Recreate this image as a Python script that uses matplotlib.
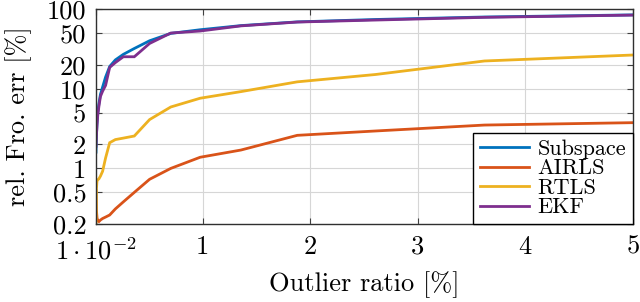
import matplotlib
matplotlib.use("Agg")
import matplotlib.pyplot as plt
import matplotlib.transforms as mtransforms

plt.rcParams['font.family'] = 'serif'
plt.rcParams['font.serif'] = ['cmr10']
plt.rcParams['mathtext.fontset'] = 'cm'
plt.rcParams['axes.formatter.use_mathtext'] = True

# Outlier ratio [%]
ratio = [0.01, 0.0139, 0.0193, 0.0267, 0.0370, 0.0514, 0.0713, 0.0990, 0.137, 0.190,
         0.264, 0.366, 0.508, 0.705, 0.978, 1.357, 1.88, 2.61, 3.62, 5.0]

subspace = [1.6, 2.5, 3.6, 5.0, 6.5, 8.5, 10.5, 14.0, 19.0, 23.0,
            27.0, 32.0, 40.0, 49.5, 55.0, 62.0, 69.0, 74.0, 79.5, 84.5]
airls = [0.53, 0.30, 0.24, 0.22, 0.215, 0.225, 0.235, 0.245, 0.26, 0.31,
         0.38, 0.50, 0.73, 1.0, 1.38, 1.70, 2.6, 2.95, 3.5, 3.75]
rtls = [0.15, 0.55, 0.70, 0.72, 0.74, 0.80, 0.92, 1.35, 2.1, 2.3,
        2.4, 2.55, 4.1, 5.9, 7.6, 9.2, 12.2, 15.1, 22.3, 26.5]
ekf = [1.9, 2.6, 3.5, 4.7, 6.0, 8.0, 9.3, 11.0, 18.5, 21.3,
       25.2, 25.2, 37.0, 50.0, 53.0, 61.5, 68.7, 72.8, 78.7, 84.0]

series = [("Subspace", subspace, "#0072BD"),
          ("AIRLS", airls, "#D95319"),
          ("RTLS", rtls, "#EDB120"),
          ("EKF", ekf, "#7E2F8E")]

xticks = [0.01, 1, 2, 3, 4, 5]
xticklabels = [r'$1\cdot10^{-2}$', '1', '2', '3', '4', '5']
yticks = [0.2, 0.5, 1, 2, 5, 10, 20, 50, 100]
yticklabels = ['0.2', '0.5', '1', '2', '5', '10', '20', '50', '100']

fig = plt.figure(figsize=(6.4, 3.02), dpi=100)
ax = fig.add_axes([0.150, 0.258, 0.839, 0.712])

for name, vals, col in series:
    ax.plot(ratio, vals, color=col, lw=2.0, label=name, solid_joinstyle='miter')

ax.set_yscale('log')
ax.set_xlim(0.01, 5)
ax.set_ylim(0.2, 100)
ax.set_xticks(xticks)
ax.set_xticklabels(xticklabels)
ax.set_yticks(yticks)
ax.set_yticklabels(yticklabels)
ax.minorticks_off()
ax.tick_params(axis='both', which='both', direction='in', length=4, width=0.8,
               color='#404040', top=True, right=True, labelsize=19)
ax.tick_params(axis='x', pad=8)
ax.tick_params(axis='y', pad=7)
ax.grid(True, color='#d6d6d6', lw=0.8)
ax.set_axisbelow(True)
for s in ax.spines.values():
    s.set_color('#303030')
    s.set_linewidth(1.0)

# nudge the first x tick label slightly down so it clears the "0.2" label
first = ax.get_xticklabels()[0]
first.set_transform(first.get_transform() +
                    mtransforms.ScaledTranslation(0, -3 / 100, fig.dpi_scale_trans))

ax.set_xlabel('Outlier ratio [%]', fontsize=19, va='center')
ax.xaxis.set_label_coords(0.5, -0.28)
ax.set_ylabel('rel. Fro. err [%]', fontsize=19, va='center')
ax.yaxis.set_label_coords(-0.145, 0.5)

leg = ax.legend(loc='lower right', borderaxespad=0, fancybox=False, framealpha=1,
                edgecolor='black', fontsize=16, handlelength=2.2, labelspacing=0.0,
                handletextpad=0.4, borderpad=0.3)
leg.get_frame().set_linewidth(1.0)

fig.savefig('out.png', dpi=100)
